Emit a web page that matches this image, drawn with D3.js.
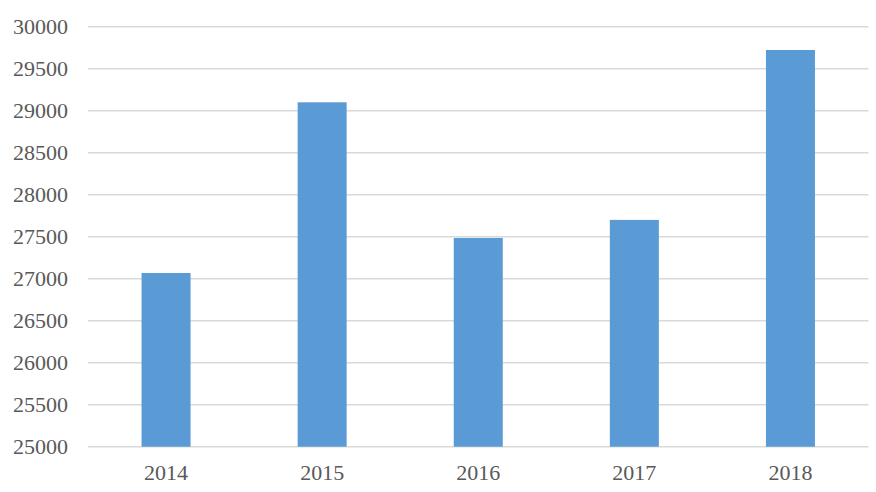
<!DOCTYPE html>
<html>
<head>
<meta charset="utf-8">
<script src="https://cdn.jsdelivr.net/npm/d3@7"></script>
<style>
  html, body { margin: 0; padding: 0; background: #fff; }
  #chart { width: 876px; height: 492px; }
  .tick text { font-family: "Liberation Serif", "Times New Roman", serif; font-size: 22px; fill: #595959; }
</style>
</head>
<body>
<div id="chart"></div>
<script>
// chart data
const years = ["2014", "2015", "2016", "2017", "2018"]
const values = [27068, 29100, 27485, 27700, 29723]
const yTicks = [25000, 25500, 26000, 26500, 27000, 27500, 28000, 28500, 29000, 29500, 30000]

buildChart()

function buildChart() {
    let width = 876, height = 492
    let margin = { top: 26.7, right: 7.5, bottom: 45.3, left: 88 }

    let svg = d3.select("#chart")
                .append("svg")
                    .attr("width", width)
                    .attr("height", height)

    let x = d3.scaleBand()
                .domain(years)
                .range([margin.left, width - margin.right])
                .paddingInner(0.686)
                .paddingOuter(0.343)

    let y = d3.scaleLinear()
                .domain([25000, 30000])
                .range([height - margin.bottom, margin.top])

    // gridlines
    svg.append("g")
        .selectAll("line")
        .data(yTicks)
        .enter().append("line")
            .attr("x1", margin.left)
            .attr("x2", width - margin.right)
            .attr("y1", d => y(d))
            .attr("y2", d => y(d))
            .attr("stroke", "#d9d9d9")
            .attr("stroke-width", 1.5)

    // bars
    svg.append("g")
        .selectAll("rect")
        .data(values)
        .enter().append("rect")
            .attr("x", (d, i) => x(years[i]))
            .attr("width", x.bandwidth())
            .attr("y", d => y(d))
            .attr("height", d => y(25000) - y(d))
            .attr("fill", "#5b9bd5")

    // y axis
    let yAxis = svg.append("g")
        .attr("transform", `translate(${margin.left},0)`)
        .call(d3.axisLeft(y).tickValues(yTicks).tickSize(0).tickPadding(20).tickFormat(d3.format("d")))
    yAxis.select(".domain").remove()

    // x axis
    let xAxis = svg.append("g")
        .attr("transform", `translate(0,${height - margin.bottom})`)
        .call(d3.axisBottom(x).tickSize(0).tickPadding(18))
    xAxis.select(".domain").remove()
}
</script>
</body>
</html>
